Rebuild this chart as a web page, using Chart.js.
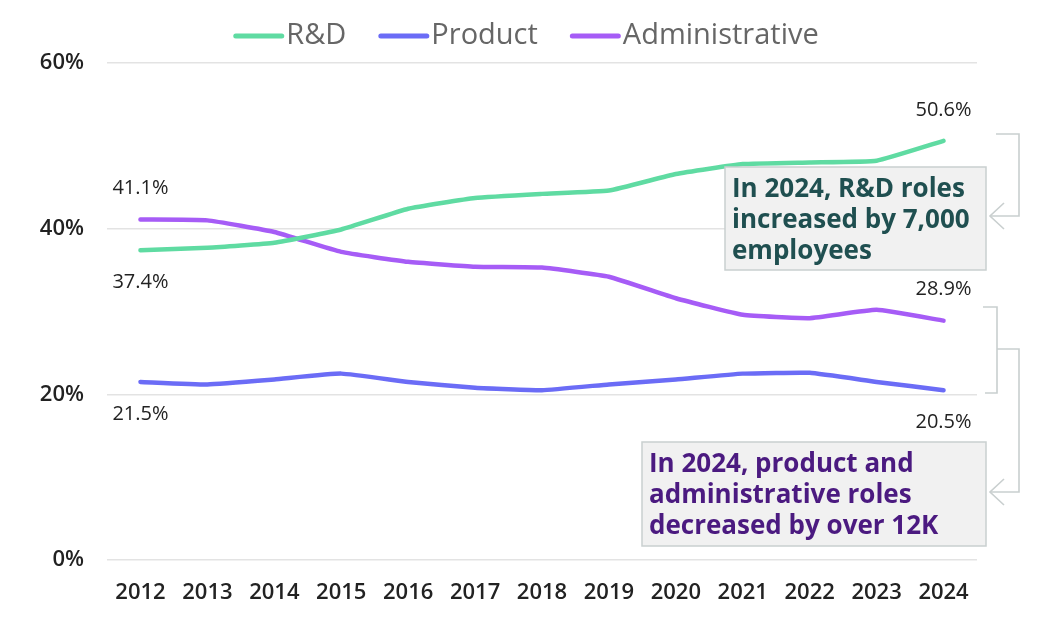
<!DOCTYPE html>
<html>
<head>
<meta charset="utf-8">
<script src="https://cdn.jsdelivr.net/npm/chart.js@4"></script>
<style>
  html, body { margin: 0; padding: 0; background: #fff; }
  #wrap { width: 1050px; height: 620px; position: relative; }
</style>
</head>
<body>
<div id="wrap"><canvas id="rolesChart"></canvas></div>
<script>
// chart data
const years = ["2012", "2013", "2014", "2015", "2016", "2017", "2018",
  "2019", "2020", "2021", "2022", "2023", "2024"];
const rdShare = [37.4, 37.7, 38.3, 39.9, 42.4, 43.7, 44.2, 44.6, 46.6, 47.8, 48.0, 48.2, 50.6];
const productShare = [21.5, 21.2, 21.8, 22.5, 21.5, 20.8, 20.5, 21.2, 21.8, 22.5, 22.6, 21.5, 20.5];
const adminShare = [41.1, 41.0, 39.6, 37.2, 36.0, 35.4, 35.3, 34.2, 31.6, 29.6, 29.2, 30.2, 28.9];
const yTicks = [0, 20, 40, 60];

const FONT = "'Open Sans', 'Noto Sans', sans-serif";

// which points get a value label: [dataset, index, above?]
const valueLabels = [
  [2, 0, true], [0, 0, false], [1, 0, false],
  [0, 12, true], [2, 12, true], [1, 12, false]
];

const callouts = [
  { x: 725, y: 167, w: 261, h: 103, color: "#1f4f50",
    lines: ["In 2024, R&D roles", "increased by 7,000", "employees"] },
  { x: 642, y: 442, w: 344, h: 104, color: "#4b1a80",
    lines: ["In 2024, product and", "administrative roles", "decreased by over 12K"] }
];

// legend drawn by hand so the marker sits right against the text
const legendPlugin = {
  id: "lineLegend",
  afterDraw(chart) {
    const ctx = chart.ctx;
    const sets = chart.data.datasets;
    ctx.save();
    ctx.font = "400 29px " + FONT;
    ctx.textBaseline = "middle";
    ctx.textAlign = "left";
    const lineW = 51, gap = 2, itemGap = 32, cy = 36;
    const widths = sets.map(d => ctx.measureText(d.label).width);
    let total = itemGap * (sets.length - 1);
    widths.forEach(w => { total += lineW + gap + w; });
    let x = 526 - total / 2;
    sets.forEach((d, i) => {
      ctx.strokeStyle = d.borderColor;
      ctx.lineWidth = 5;
      ctx.lineCap = "round";
      ctx.beginPath();
      ctx.moveTo(x + 2.5, cy);
      ctx.lineTo(x + lineW - 2.5, cy);
      ctx.stroke();
      ctx.fillStyle = "#666";
      ctx.fillText(d.label, x + lineW + gap, cy);
      x += lineW + gap + widths[i] + itemGap;
    });
    ctx.restore();
  }
};

const labelPlugin = {
  id: "valueLabels",
  afterDatasetsDraw(chart) {
    const ctx = chart.ctx;
    ctx.save();
    ctx.font = "400 20px " + FONT;
    ctx.fillStyle = "#222";
    ctx.textAlign = "center";
    ctx.textBaseline = "middle";
    valueLabels.forEach(([ds, i, above]) => {
      const pt = chart.getDatasetMeta(ds).data[i];
      const v = chart.data.datasets[ds].data[i];
      ctx.fillText(v.toFixed(1) + "%", pt.x, pt.y + (above ? -31 : 32));
    });
    ctx.restore();
  }
};

function chevron(ctx, x, y) {
  ctx.beginPath();
  ctx.moveTo(x + 14, y - 13);
  ctx.lineTo(x, y);
  ctx.lineTo(x + 14, y + 13);
  ctx.stroke();
}

const calloutPlugin = {
  id: "callouts",
  afterDraw(chart) {
    const ctx = chart.ctx;
    ctx.save();
    // boxes
    callouts.forEach(c => {
      ctx.fillStyle = "#f1f1f1";
      ctx.strokeStyle = "#c9cfcf";
      ctx.lineWidth = 1.5;
      ctx.fillRect(c.x, c.y, c.w, c.h);
      ctx.strokeRect(c.x, c.y, c.w, c.h);
      ctx.fillStyle = c.color;
      ctx.font = "700 26px " + FONT;
      ctx.textBaseline = "middle";
      ctx.textAlign = "left";
      c.lines.forEach((t, k) => ctx.fillText(t, c.x + 7, c.y + 23 + k * 31));
    });

    // brackets
    ctx.strokeStyle = "#c9cfcf";
    ctx.lineWidth = 1.6;
    ctx.beginPath();
    ctx.moveTo(996, 134); ctx.lineTo(1019, 134);
    ctx.lineTo(1019, 216); ctx.lineTo(990, 216);
    ctx.stroke();
    chevron(ctx, 990, 216);

    ctx.beginPath();
    ctx.moveTo(983, 307); ctx.lineTo(997, 307);
    ctx.lineTo(997, 393); ctx.lineTo(985, 393);
    ctx.moveTo(997, 349); ctx.lineTo(1019, 349);
    ctx.lineTo(1019, 492); ctx.lineTo(990, 492);
    ctx.stroke();
    chevron(ctx, 990, 492);
    ctx.restore();
  }
};

function lineSet(label, data, color) {
  return {
    label: label,
    data: data,
    borderColor: color,
    backgroundColor: color,
    borderWidth: 4.5,
    borderCapStyle: "round",
    borderJoinStyle: "round",
    pointRadius: 0,
    tension: 0.12
  };
}

const ctx = document.getElementById("rolesChart").getContext("2d");
new Chart(ctx, {
  type: "line",
  data: {
    labels: years,
    datasets: [
      lineSet("R&D", rdShare, "#5fdba2"),
      lineSet("Product", productShare, "#6b6cf6"),
      lineSet("Administrative", adminShare, "#a65cf6")
    ]
  },
  options: {
    responsive: true,
    maintainAspectRatio: false,
    animation: false,
    layout: { padding: { top: 63, right: 73, bottom: 0, left: 0 } },
    plugins: {
      tooltip: { enabled: false },
      legend: { display: false }
    },
    scales: {
      x: {
        offset: true,
        grid: { display: false },
        border: { display: false },
        ticks: {
          color: "#222",
          padding: 12,
          maxRotation: 0,
          font: { family: FONT, size: 22, weight: "600" }
        },
        afterFit(scale) { scale.height = 60; }
      },
      y: {
        min: 0,
        max: 60,
        afterBuildTicks(scale) { scale.ticks = yTicks.map(v => ({ value: v })); },
        grid: { color: "#e3e3e3", lineWidth: 1.6, drawTicks: false },
        border: { display: false },
        ticks: {
          color: "#222",
          padding: 23,
          font: { family: FONT, size: 22, weight: "600" },
          callback: v => v + "%"
        },
        afterFit(scale) { scale.width = 107; }
      }
    }
  },
  plugins: [labelPlugin, calloutPlugin, legendPlugin]
});
</script>
</body>
</html>
